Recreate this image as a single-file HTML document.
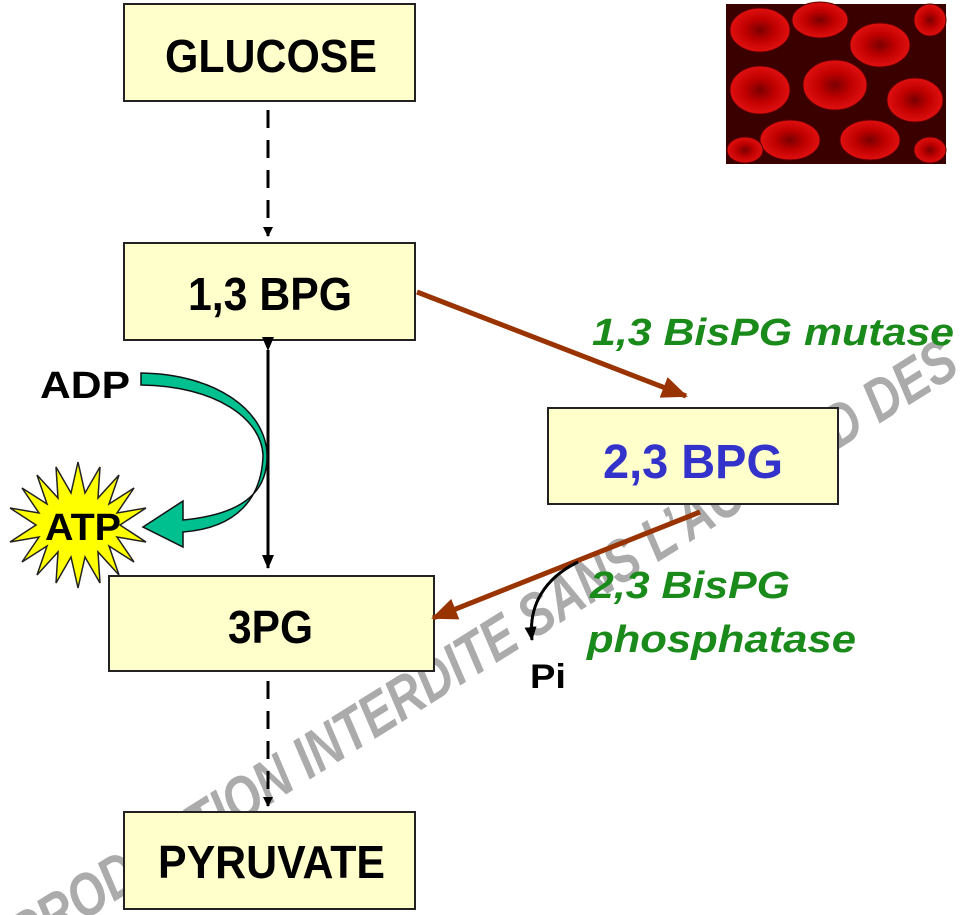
<!DOCTYPE html>
<html><head><meta charset="utf-8"><style>
html,body{margin:0;padding:0;background:#fff;overflow:hidden;}
svg{display:block;}
</style></head><body>
<svg width="967" height="915" viewBox="0 0 967 915" xmlns="http://www.w3.org/2000/svg" font-family="Liberation Sans, Arial, sans-serif">
<defs>
<marker id="blk" markerWidth="10" markerHeight="10" refX="9" refY="5" orient="auto" markerUnits="userSpaceOnUse"><path d="M0,0 L10,5 L0,10 Z" fill="#000"/></marker>
<marker id="blk2" markerWidth="14" markerHeight="12" refX="13" refY="6" orient="auto" markerUnits="userSpaceOnUse"><path d="M0,0 L14,6 L0,12 Z" fill="#000"/></marker>
<marker id="brn" markerWidth="26" markerHeight="22" refX="24" refY="11" orient="auto" markerUnits="userSpaceOnUse"><path d="M0,0 L26,11 L0,22 Z" fill="#993300"/></marker>
<radialGradient id="cell" cx="50%" cy="50%" r="50%"><stop offset="0" stop-color="#7a0000"/><stop offset="0.5" stop-color="#c00000"/><stop offset="1" stop-color="#e01010"/></radialGradient>
</defs>

<!-- watermark -->
<text x="962" y="372" text-anchor="end" transform="rotate(-32 962 372)" font-size="60" font-weight="bold" font-style="italic" fill="#ababab" textLength="1170" lengthAdjust="spacingAndGlyphs">REPRODUCTION INTERDITE SANS L’ACCORD DES</text>

<!-- image -->
<rect x="726" y="4" width="220" height="160" fill="#3a0000"/>
<g fill="url(#cell)" stroke="#5a0000" stroke-width="1">
<ellipse cx="760" cy="30" rx="30" ry="22"/>
<ellipse cx="820" cy="20" rx="28" ry="18"/>
<ellipse cx="880" cy="45" rx="30" ry="22"/>
<ellipse cx="930" cy="20" rx="16" ry="16"/>
<ellipse cx="760" cy="90" rx="30" ry="24"/>
<ellipse cx="835" cy="85" rx="32" ry="25"/>
<ellipse cx="915" cy="100" rx="28" ry="22"/>
<ellipse cx="790" cy="140" rx="30" ry="20"/>
<ellipse cx="870" cy="140" rx="30" ry="20"/>
<ellipse cx="930" cy="150" rx="16" ry="13"/>
<ellipse cx="745" cy="150" rx="18" ry="13"/>
</g>

<!-- boxes -->
<g fill="#ffffcc" stroke="#222" stroke-width="2">
<rect x="124" y="4" width="291" height="97"/>
<rect x="124" y="243" width="291" height="97"/>
<rect x="548" y="408" width="290" height="96"/>
<rect x="109" y="576" width="325" height="95"/>
<rect x="124" y="812" width="291" height="97"/>
</g>
<g font-weight="bold" font-size="46" fill="#000">
<text x="165" y="72" textLength="212" lengthAdjust="spacingAndGlyphs">GLUCOSE</text>
<text x="188" y="310" textLength="164" lengthAdjust="spacingAndGlyphs">1,3 BPG</text>
<text x="228" y="643" textLength="85" lengthAdjust="spacingAndGlyphs">3PG</text>
<text x="158" y="878" textLength="227" lengthAdjust="spacingAndGlyphs">PYRUVATE</text>
<text x="603" y="478" fill="#3333cc" font-size="48" textLength="180" lengthAdjust="spacingAndGlyphs">2,3 BPG</text>
</g>

<!-- dashed arrows -->
<line x1="268" y1="110" x2="268" y2="236" stroke="#000" stroke-width="3" stroke-dasharray="18,12" marker-end="url(#blk)"/>
<line x1="268" y1="681" x2="268" y2="806" stroke="#000" stroke-width="3" stroke-dasharray="18,12" marker-end="url(#blk)"/>
<!-- double arrow -->
<line x1="268" y1="350" x2="268" y2="568" stroke="#000" stroke-width="3" marker-start="url(#blk2)" marker-end="url(#blk2)"/>
<!-- brown arrows -->
<line x1="417" y1="292" x2="686" y2="396" stroke="#993300" stroke-width="5" marker-end="url(#brn)"/>
<line x1="700" y1="512" x2="433" y2="618" stroke="#993300" stroke-width="5" marker-end="url(#brn)"/>
<!-- Pi curve -->
<path d="M578,562 C545,578 528,605 532,640" fill="none" stroke="#000" stroke-width="3" marker-end="url(#blk2)"/>
<text x="530" y="688" font-size="34" font-weight="bold" textLength="36" lengthAdjust="spacingAndGlyphs">Pi</text>

<!-- green text -->
<g font-weight="bold" font-style="italic" font-size="38" fill="#1a8a1a">
<text x="592" y="345" textLength="362" lengthAdjust="spacingAndGlyphs">1,3 BisPG mutase</text>
<text x="590" y="598" textLength="200" lengthAdjust="spacingAndGlyphs">2,3 BisPG</text>
<text x="587" y="652" textLength="269" lengthAdjust="spacingAndGlyphs">phosphatase</text>
</g>

<!-- star ATP -->
<polygon fill="#ffff00" stroke="#222" stroke-width="1.5" points="
78,462 85,493 100,467 98,498 119,475 109,504 134,488 117,513 146,508 120,525 146,542 117,537 134,562 109,546 119,575 98,552 100,583 85,557 78,588 71,557 56,583 58,552 37,575 47,546 22,562 39,537 10,542 36,525 10,508 39,513 22,488 47,504 37,475 58,498 56,467 71,493"/>
<text x="45" y="540" font-size="38" font-weight="bold" textLength="76" lengthAdjust="spacingAndGlyphs">ATP</text>
<text x="40" y="398" font-size="38" font-weight="bold" textLength="90" lengthAdjust="spacingAndGlyphs">ADP</text>

<!-- green curved arrow -->
<path d="M141,373 C215,374 266,410 267,455 C268,497 235,515 183,520 L183,501 L143,527 L183,547 L183,532 C238,528 262,497 263,455 C261,418 215,386 141,385 Z" fill="#00c090" stroke="#111" stroke-width="1.5"/>
</svg>
</body></html>
